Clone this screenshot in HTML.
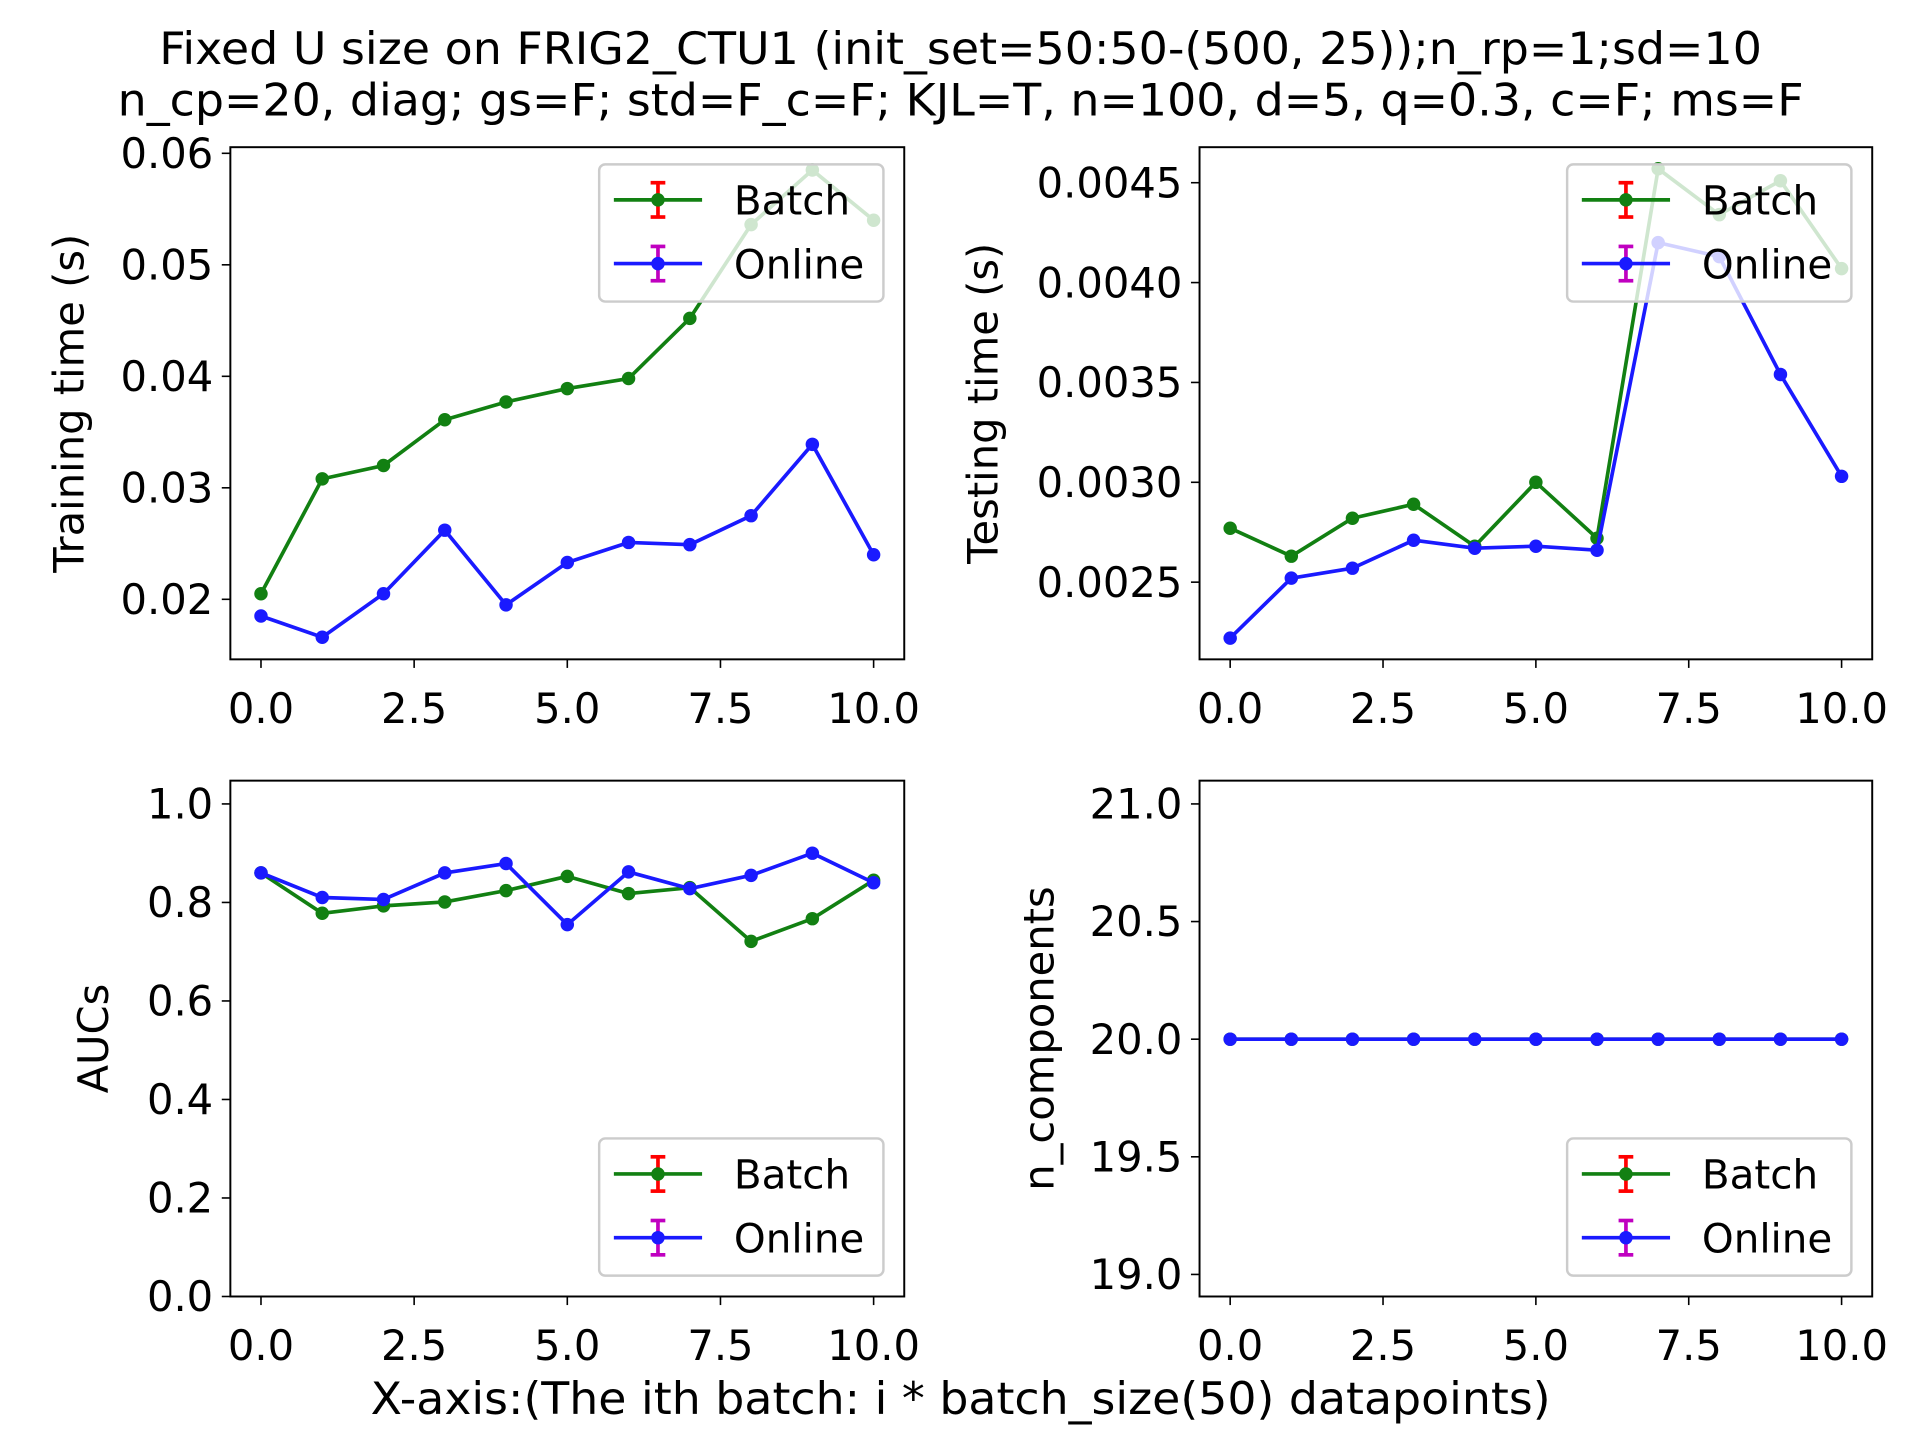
<!DOCTYPE html>
<html><head><meta charset="utf-8"><style>html,body{margin:0;padding:0;background:#fff}svg{display:block}text{font-family:"DejaVu Sans","Liberation Sans",sans-serif;fill:#000}</style></head>
<body>
<svg id="fig" width="1920" height="1440" viewBox="0 0 1567 1175" xmlns="http://www.w3.org/2000/svg">
<rect width="1567" height="1175" fill="#fff"/>
<text x="784" y="52" font-size="36" text-anchor="middle" textLength="1308" lengthAdjust="spacingAndGlyphs">Fixed U size on FRIG2_CTU1 (init_set=50:50-(500, 25));n_rp=1;sd=10</text>
<text x="784" y="94" font-size="36" text-anchor="middle" textLength="1376" lengthAdjust="spacingAndGlyphs">n_cp=20, diag; gs=F; std=F_c=F; KJL=T, n=100, d=5, q=0.3, c=F; ms=F</text>
<text x="784" y="1154" font-size="36" text-anchor="middle" textLength="963" lengthAdjust="spacingAndGlyphs">X-axis:(The ith batch: i * batch_size(50) datapoints)</text>
</svg>
<script>
const xs = [0,1,2,3,4,5,6,7,8,9,10];
const trainBatch = [0.0205,0.0308,0.0320,0.0361,0.0377,0.0389,0.0398,0.0452,0.0536,0.0585,0.0540];
const trainOnline = [0.0185,0.0166,0.0205,0.0262,0.0195,0.0233,0.0251,0.0249,0.0275,0.0339,0.0240];
const testBatch = [0.00277,0.00263,0.00282,0.00289,0.00268,0.00300,0.00272,0.00457,0.00434,0.00451,0.00407];
const testOnline = [0.00222,0.00252,0.00257,0.00271,0.00267,0.00268,0.00266,0.00420,0.00413,0.00354,0.00303];
const aucBatch = [0.860,0.778,0.793,0.801,0.824,0.853,0.818,0.830,0.721,0.767,0.845];
const aucOnline = [0.860,0.810,0.806,0.860,0.879,0.755,0.862,0.828,0.855,0.900,0.840];
const compBatch = [20,20,20,20,20,20,20,20,20,20,20];
const compOnline = [20,20,20,20,20,20,20,20,20,20,20];
const xTicks = [0,2.5,5,7.5,10];
const xTickLabels = ["0.0","2.5","5.0","7.5","10.0"];
const trainTicks = [0.02,0.03,0.04,0.05,0.06];
const trainTickLabels = ["0.02","0.03","0.04","0.05","0.06"];
const testTicks = [0.0025,0.003,0.0035,0.004,0.0045];
const testTickLabels = ["0.0025","0.0030","0.0035","0.0040","0.0045"];
const aucTicks = [0,0.2,0.4,0.6,0.8,1.0];
const aucTickLabels = ["0.0","0.2","0.4","0.6","0.8","1.0"];
const compTicks = [19,19.5,20,20.5,21];
const compTickLabels = ["19.0","19.5","20.0","20.5","21.0"];

const NS="http://www.w3.org/2000/svg";
const svg=document.getElementById('fig');
function mk(tag,attrs,parent){const e=document.createElementNS(NS,tag);for(const k in attrs)e.setAttribute(k,attrs[k]);(parent||svg).appendChild(e);return e;}

function panel(cfg){
  const g=mk('g',{});
  
  
  const {x0,x1,y0,y1}=cfg;
  const sx=v=>cfg.px0+(v-0)*(cfg.px10-cfg.px0)/10;
  const sy=v=>cfg.py0+(v-cfg.v0)*(cfg.py1-cfg.py0)/(cfg.v1-cfg.v0);
  const drawSeries=(vals,color,nm)=>{
    const pts=xs.map((x,i)=>sx(x)+','+sy(vals[i])).join(' ');
    const l=mk('polyline',{points:pts,fill:'none',stroke:color,'stroke-width':3,'stroke-linejoin':'round'},g);
    
    
    xs.forEach((x,i)=>{
      const c=mk('circle',{cx:sx(x),cy:sy(vals[i]),r:5.5,fill:color},g);
      
      
    });
  };
  drawSeries(cfg.batch,'#128012','batch-series');
  drawSeries(cfg.online,'#1a1aff','online-series');
  const box=mk('rect',{x:x0,y:y0,width:x1-x0,height:y1-y0,fill:'none',stroke:'#000','stroke-width':1.6},g);
  
  
  xTicks.forEach((t,i)=>{
    const X=sx(t);
    mk('line',{x1:X,x2:X,y1:y1,y2:y1+7,stroke:'#000','stroke-width':1.3},g);
    const tx=mk('text',{x:X,y:y1+52,'font-size':34,'text-anchor':'middle'},g);
    tx.textContent=xTickLabels[i];
    
    
  });
  cfg.ticks.forEach((t,i)=>{
    const Y=sy(t);
    mk('line',{x1:x0-7,x2:x0,y1:Y,y2:Y,stroke:'#000','stroke-width':1.3},g);
    const ty=mk('text',{x:x0-14,y:Y+12,'font-size':34,'text-anchor':'end'},g);
    ty.textContent=cfg.tickLabels[i];
    
    
  });
  const yl=mk('text',{x:0,y:0,'font-size':34,'text-anchor':'middle',transform:`translate(${cfg.ylx},${(y0+y1)/2}) rotate(-90)`},g);
  yl.textContent=cfg.ylabel;
  
  
  const lx=x1-249, ly=cfg.legTop;
  const lg=mk('g',{},g);
  
  
  mk('rect',{x:lx,y:ly,width:232,height:112,rx:5,fill:'rgba(255,255,255,0.8)',stroke:'#ccc','stroke-width':2},lg);
  [['Batch','#128012','#ff0000'],['Online','#1a1aff','#c000c0']].forEach((e,i)=>{
    const cy=ly+29+i*52;
    const ent=mk('g',{},lg);
    
    
    mk('line',{x1:lx+12,x2:lx+84,y1:cy,y2:cy,stroke:e[1],'stroke-width':3},ent);
    mk('line',{x1:lx+48,x2:lx+48,y1:cy-14,y2:cy+14,stroke:e[2],'stroke-width':3},ent);
    mk('line',{x1:lx+42,x2:lx+54,y1:cy-14,y2:cy-14,stroke:e[2],'stroke-width':3},ent);
    mk('line',{x1:lx+42,x2:lx+54,y1:cy+14,y2:cy+14,stroke:e[2],'stroke-width':3},ent);
    mk('circle',{cx:lx+48,cy:cy,r:5.5,fill:e[1]},ent);
    const t=mk('text',{x:lx+110,y:cy+12,'font-size':33},ent);
    t.textContent=e[0];
  });
}
panel({name:'training-time-panel',x0:188,x1:738,y0:120,y1:538,px0:213,px10:713,v0:0.02,v1:0.06,py0:489,py1:125,batch:trainBatch,online:trainOnline,ticks:trainTicks,tickLabels:trainTickLabels,ylabel:'Training time (s)',ylx:68,legTop:134});
panel({name:'testing-time-panel',x0:979,x1:1528,y0:120,y1:538,px0:1004,px10:1503,v0:0.0025,v1:0.0045,py0:475,py1:149,batch:testBatch,online:testOnline,ticks:testTicks,tickLabels:testTickLabels,ylabel:'Testing time (s)',ylx:814,legTop:134});
panel({name:'auc-panel',x0:188,x1:738,y0:637,y1:1058,px0:213,px10:713,v0:0,v1:1,py0:1058,py1:656,batch:aucBatch,online:aucOnline,ticks:aucTicks,tickLabels:aucTickLabels,ylabel:'AUCs',ylx:88,legTop:929});
panel({name:'n-components-panel',x0:979,x1:1528,y0:637,y1:1058,px0:1004,px10:1503,v0:19,v1:21,py0:1040,py1:656,batch:compBatch,online:compOnline,ticks:compTicks,tickLabels:compTickLabels,ylabel:'n_components',ylx:860,legTop:929});
</script>
</body></html>
